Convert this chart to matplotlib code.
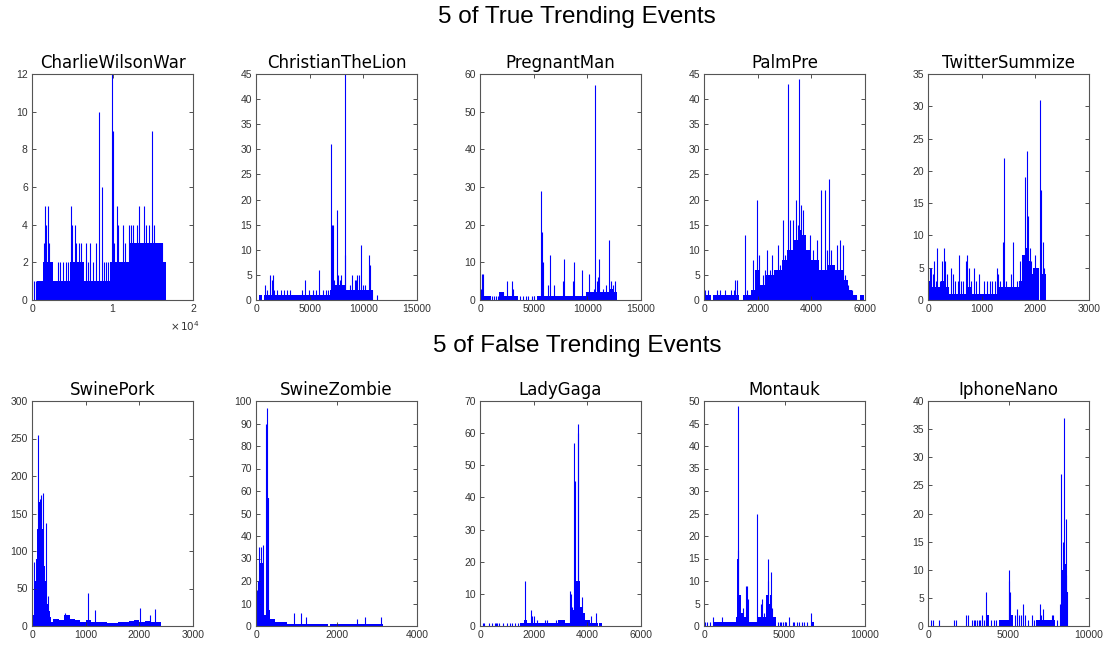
import matplotlib.pyplot as plt

BLUE = '#0000ff'

# CharlieWilsonWar
cw_edges = [0, 150, 650, 1400, 2650, 4700, 6400, 9700, 12000, 16300, 16700]
cw_levels = [1, 0, 1, 2, 1, 2, 1, 2, 3, 2]
cw_peak_x = [300, 450, 560, 1500, 1650, 1800, 1950, 2100, 3200, 3500, 3900, 4200, 4450,
             4850, 5000, 5300, 5500, 5800, 6100, 6700, 7000, 7200, 7600, 7900, 8300,
             8650, 8900, 9150, 9400, 9900, 10000, 10200, 10500, 10700, 11300, 11600,
             12000, 12300, 12600, 13000, 13300, 13600, 13900, 14200, 14500, 14870,
             15100, 15500, 15900, 16200]
cw_peak_y = [1, 1, 1, 3, 5, 4, 5, 3, 2, 2, 2, 2, 2,
             5, 4, 4, 3, 3, 3, 3, 2, 3, 2, 3, 10,
             6, 2, 2, 2, 12, 9, 3, 5, 4, 4, 3,
             4, 4, 4, 4, 5, 3, 5, 4, 4, 9,
             4, 3, 3, 3]

# ChristianTheLion
ctl_edges = [300, 600, 700, 6900, 7000, 7250, 8300, 10900]
ctl_levels = [1, 0, 1, 2, 8, 3, 2]
ctl_peak_x = [800, 1000, 1300, 1450, 1550, 1700, 2000, 2300, 2600, 2900, 3200, 4300, 4600,
              4900, 5300, 5600, 5900, 6200, 6500, 6700, 6950, 7050, 7200, 7300, 7550,
              7650, 7800, 7950, 8250, 8300, 8500, 8800, 8950, 9200, 9300, 9450, 9600,
              9750, 10000, 10200, 10500, 10650, 10800, 11300]
ctl_peak_y = [3, 2, 5, 4, 5, 2, 2, 2, 2, 2, 2, 2, 4,
              2, 2, 2, 6, 2, 2, 2, 31, 15, 15, 4, 18,
              5, 4, 5, 45, 9, 2, 3, 5, 4, 4, 5, 5,
              11, 3, 3, 9, 7, 2, 1]

# PregnantMan
pm_edges = [0, 300, 1000, 1800, 2200, 3500, 5300, 9900, 12000, 12400, 12800]
pm_levels = [2, 1, 0, 2, 1, 0, 1, 2, 3, 2]
pm_peak_x = [100, 150, 250, 1100, 1300, 1500, 1700, 2000, 2100, 2550, 3000, 3100,
             3700, 4000, 4300, 4500, 4800, 5000, 5700, 5750, 5850, 6300, 6500, 6900,
             7750, 7800, 8700, 8800, 9500, 10200, 10600, 10700, 10900, 11000, 11100,
             11500, 11700, 12000, 12200, 12300, 12400, 12600]
pm_peak_y = [3, 7, 7, 1, 1, 1, 1, 2, 2, 5, 5, 3,
             1, 1, 1, 1, 1, 1, 29, 18, 10, 4, 12, 4,
             5, 11, 5, 10, 8, 7, 3, 57, 5, 6, 11,
             3, 4, 16, 5, 3, 4, 5]

# PalmPre
pp_edges = [0, 250, 350, 1300, 1450, 1750, 1900, 2100, 2300, 2600, 2900, 3100, 3300,
            3500, 3650, 3800, 4000, 4300, 4600, 4900, 5200, 5350, 5500, 5700, 5800, 5950]
pp_levels = [1, 0, 1, 0, 1, 2, 6, 3, 5, 6, 8, 10, 12, 14, 13, 10, 8, 6, 7, 6, 4, 2, 1, 0, 1]
pp_peak_x = [50, 150, 500, 600, 800, 1000, 1100, 1155, 1245, 1530, 1600, 1840, 1990,
             2050, 2200, 2280, 2360, 2450, 2550, 2650, 2745, 2830, 2955, 3030, 3140,
             3200, 3330, 3430, 3490, 3550, 3610, 3700, 3800, 3950, 4080, 4200, 4350,
             4510, 4600, 4670, 4750, 4950, 5080, 5170, 5250, 5350, 5500, 5650, 5900]
pp_peak_y = [2, 2, 2, 2, 2, 2, 2, 4, 4, 13, 2, 8, 20,
             9, 5, 6, 10, 6, 9, 6, 11, 7, 16, 9, 43,
             16, 16, 20, 15, 44, 19, 18, 10, 13, 10, 12, 22,
             22, 10, 24, 10, 11, 12, 11, 5, 3, 2, 1, 1]

# TwitterSummize
ts_edges = [0, 60, 250, 330, 400, 700, 800, 1300, 1700, 1760, 1800, 1830, 1870, 1900,
            1950, 2060, 2090, 2130, 2200]
ts_levels = [3, 2, 3, 2, 1, 2, 1, 2, 3, 7, 12, 8, 6, 4, 5, 0, 5, 4]
ts_peak_x = [30, 60, 100, 120, 150, 170, 230, 270, 300, 320, 350, 430, 460, 500, 550, 580,
             620, 650, 700, 730, 760, 800, 850, 900, 950, 1050, 1100, 1150, 1200, 1250,
             1290, 1310, 1350, 1400, 1420, 1450, 1550, 1580, 1650, 1720, 1780, 1810, 1840,
             1860, 1900, 1920, 2000, 2020, 2085, 2110, 2150, 2170]
ts_peak_y = [5, 5, 4, 6, 3, 8, 3, 6, 8, 6, 4, 5, 4, 3, 3, 7,
             3, 3, 6, 7, 5, 3, 5, 3, 4, 3, 3, 3, 3, 3,
             5, 4, 3, 9, 22, 3, 4, 9, 3, 6, 7, 19, 23,
             13, 8, 6, 7, 5, 31, 17, 9, 5]

# SwinePork
sp_edges = [0, 20, 40, 60, 80, 100, 120, 140, 160, 180, 200, 220, 240, 260, 280, 300, 330,
            360, 400, 500, 600, 700, 800, 900, 1000, 1100, 1200, 1300, 1400, 1500, 1600,
            1700, 1800, 1900, 2000, 2100, 2200, 2300, 2400]
sp_levels = [5, 15, 30, 60, 90, 130, 165, 160, 150, 130, 110, 80, 60, 40, 30, 20, 12,
             6, 10, 8, 15, 10, 8, 6, 8, 6, 5, 5, 4, 4, 5, 6, 7, 8, 6, 7, 6, 5]
sp_peak_x = [37, 112, 118, 155, 175, 205, 255, 300, 620, 660, 1045, 1170, 2020, 2205, 2285]
sp_peak_y = [85, 255, 63, 170, 175, 178, 138, 40, 17, 15, 44, 22, 24, 15, 23]

# SwineZombie
sz_edges = [0, 40, 80, 170, 200, 250, 320, 360, 470, 760, 1800, 1850, 3160]
sz_levels = [14, 10, 28, 12, 5, 57, 7, 3, 2, 1, 0, 1]
sz_peak_x = [20, 60, 83, 124, 165, 256, 273, 289, 940, 1130, 1240, 2500, 2720, 3100]
sz_peak_y = [16, 20, 35, 35, 36, 90, 97, 57, 6, 6, 4, 3, 4, 4]

# LadyGaga
lg_edges = [0, 1500, 1650, 1760, 2900, 3150, 3400, 3450, 3500, 3570, 3720, 3800, 3900,
            4100, 4400, 4450, 4550]
lg_levels = [0, 1, 2, 1, 2, 1, 3, 5, 7, 14, 6, 4, 2, 1, 0, 1]
lg_peak_x = [100, 150, 350, 450, 550, 600, 650, 700, 850, 1000, 1100, 1200, 1300, 1400,
             1680, 1890, 1950, 2020, 2130, 2420, 2480, 2850, 3350, 3390, 3430, 3515,
             3550, 3640, 3665, 3790, 4120, 4310]
lg_peak_y = [1, 1, 1, 1, 1, 1, 1, 1, 1, 1, 1, 1, 1, 1,
             14, 5, 3, 3, 2, 2, 2, 2, 11, 10, 6, 57,
             45, 60, 63, 9, 3, 4]

# Montauk
mt_edges = [0, 600, 2000, 2050, 2150, 2300, 2450, 2600, 2800, 3300, 3850, 3950, 4100,
            4200, 4300, 4500, 6650, 6850]
mt_levels = [0, 1, 2, 15, 7, 3, 2, 5, 1, 2, 7, 5, 7, 3, 2, 0, 1]
mt_peak_x = [30, 80, 200, 350, 560, 1120, 2100, 2140, 2400, 2630, 2700, 2740, 3300,
             3550, 3630, 3700, 3960, 4000, 4150, 4250, 4600, 4700, 4800, 4900, 5000,
             5100, 5290, 5500, 5600, 5800, 5900, 6100, 6200, 6400, 6620]
mt_peak_y = [1, 1, 1, 1, 2, 2, 17, 49, 4, 9, 9, 6, 25,
             5, 6, 3, 10, 15, 12, 4, 1, 1, 1, 1, 1,
             1, 2, 1, 1, 1, 1, 1, 1, 1, 3]

# IphoneNano
ip_edges = [3630, 3780, 4400, 5020, 5100, 5300, 6700, 7900, 8260, 8360, 8460, 8570, 8670]
ip_levels = [2, 0, 1, 0, 2, 0, 1, 0, 10, 0, 11, 6]
ip_peak_x = [190, 290, 660, 1600, 1760, 2390, 2490, 2740, 2850, 2950, 3050, 3150, 3250,
             3350, 3460, 3630, 3900, 4100, 4250, 5020, 5060, 5100, 5400, 5540, 5650,
             5800, 5910, 6000, 6200, 6470, 6600, 6950, 7000, 7160, 7300, 7500, 7700,
             7780, 8000, 8200, 8240, 8380, 8440, 8560, 8590, 8650]
ip_peak_y = [1, 1, 1, 1, 1, 2, 2, 1, 1, 1, 1, 1, 1,
             2, 1, 6, 1, 1, 1, 8, 10, 6, 2, 3, 2,
             2, 4, 2, 1, 2, 1, 4, 2, 3, 1, 1, 2,
             2, 1, 4, 27, 15, 37, 9, 19, 6]

titles = ['CharlieWilsonWar', 'ChristianTheLion', 'PregnantMan', 'PalmPre', 'TwitterSummize',
          'SwinePork', 'SwineZombie', 'LadyGaga', 'Montauk', 'IphoneNano']
series = [(cw_edges, cw_levels, cw_peak_x, cw_peak_y),
          (ctl_edges, ctl_levels, ctl_peak_x, ctl_peak_y),
          (pm_edges, pm_levels, pm_peak_x, pm_peak_y),
          (pp_edges, pp_levels, pp_peak_x, pp_peak_y),
          (ts_edges, ts_levels, ts_peak_x, ts_peak_y),
          (sp_edges, sp_levels, sp_peak_x, sp_peak_y),
          (sz_edges, sz_levels, sz_peak_x, sz_peak_y),
          (lg_edges, lg_levels, lg_peak_x, lg_peak_y),
          (mt_edges, mt_levels, mt_peak_x, mt_peak_y),
          (ip_edges, ip_levels, ip_peak_x, ip_peak_y)]
x_limits = [20000, 15000, 15000, 6000, 3000, 3000, 4000, 6000, 10000, 10000]
x_steps = [10000, 5000, 5000, 2000, 1000, 1000, 2000, 2000, 5000, 5000]
y_limits = [12, 45, 60, 45, 35, 300, 100, 70, 50, 40]
y_steps = [2, 5, 10, 5, 5, 50, 10, 10, 5, 5]

W, H = 1107, 645
fig = plt.figure(figsize=(W / 100, H / 100), dpi=100)
fig.text(577 / W, 1 - 17 / H, '5 of True Trending Events', ha='center', va='center',
         fontsize=17.5, family='Liberation Sans')
fig.text(577 / W, 1 - 346 / H, '5 of False Trending Events', ha='center', va='center',
         fontsize=17.5, family='Liberation Sans')

lefts = [32, 256, 480, 704, 928]
for i, (title, (edges, levels, px, py)) in enumerate(zip(titles, series)):
    row, col = divmod(i, 5)
    top, bottom = (74, 300) if row == 0 else (401, 626)
    ax = fig.add_axes([lefts[col] / W, 1 - bottom / H, 161 / W, (bottom - top) / H])
    ax.stairs(levels, edges, fill=True, color=BLUE, lw=0)
    ax.vlines(px, 0, py, colors=BLUE, lw=0.8)
    ax.set_xlim(0, x_limits[i])
    ax.set_ylim(0, y_limits[i])
    xt = list(range(0, x_limits[i] + 1, x_steps[i]))
    yt = list(range(0, y_limits[i] + 1, y_steps[i]))
    ax.set_xticks(xt)
    ax.set_yticks(yt)
    if i == 0:
        ax.set_xticklabels(['0', '1', '2'])
        ax.text(0.86, -0.115, r'$\times\,10^4$', transform=ax.transAxes, fontsize=7.5,
                color='#333333', va='center')
    ax.set_title(title, fontsize=12, pad=4)
    ax.tick_params(direction='in', length=3, width=0.6, top=True, right=True,
                   labelsize=7.5, colors='#333333', pad=3)
    for lbl in ax.get_xticklabels() + ax.get_yticklabels():
        lbl.set_family('Liberation Sans')
    for s in ax.spines.values():
        s.set_color('#555555')
        s.set_linewidth(0.8)

fig.savefig('out.png', dpi=100)
